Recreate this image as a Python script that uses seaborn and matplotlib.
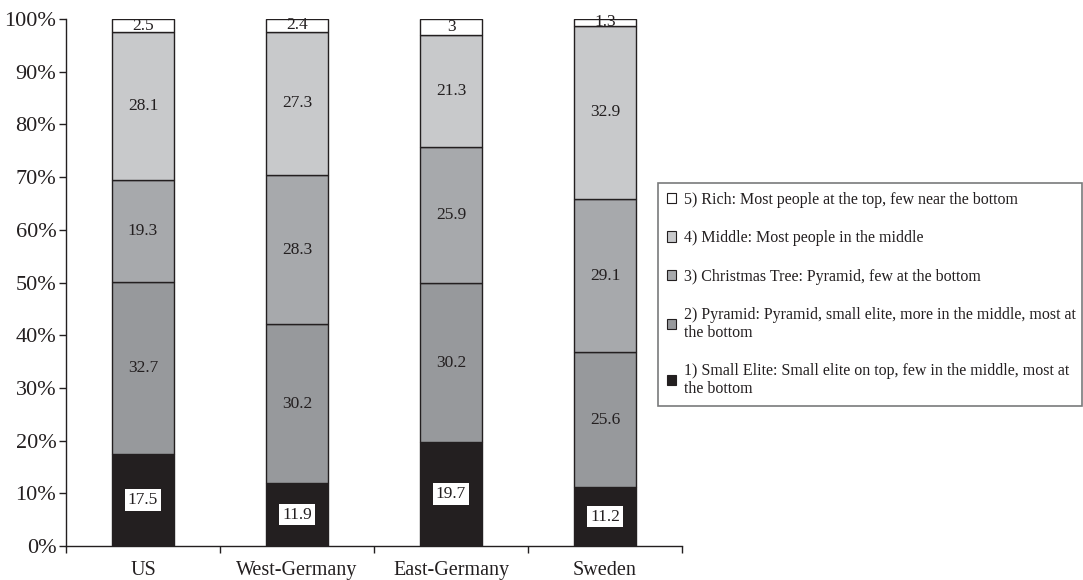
import matplotlib
matplotlib.use("Agg")
import matplotlib.pyplot as plt
from matplotlib.patches import Patch
from matplotlib.ticker import FixedLocator, PercentFormatter
import numpy as np
import pandas as pd
import seaborn as sns

countries = ["US", "West-Germany", "East-Germany", "Sweden"]
small_elite = [17.5, 11.9, 19.7, 11.2]
pyramid = [32.7, 30.2, 30.2, 25.6]
christmas_tree = [19.3, 28.3, 25.9, 29.1]
middle = [28.1, 27.3, 21.3, 32.9]
rich = [2.5, 2.4, 3, 1.3]
value_text = {
    "small_elite": ["17.5", "11.9", "19.7", "11.2"],
    "pyramid": ["32.7", "30.2", "30.2", "25.6"],
    "christmas_tree": ["19.3", "28.3", "25.9", "29.1"],
    "middle": ["28.1", "27.3", "21.3", "32.9"],
    "rich": ["2.5", "2.4", "3", "1.3"],
}
legend_labels = [
    "1) Small Elite: Small elite on top, few in the middle, most at\nthe bottom",
    "2) Pyramid: Pyramid, small elite, more in the middle, most at\nthe bottom",
    "3) Christmas Tree: Pyramid, few at the bottom",
    "4) Middle: Most people in the middle",
    "5) Rich: Most people at the top, few near the bottom",
]

sns.set_theme(style="white")
plt.rcParams["font.family"] = ["Liberation Serif", "DejaVu Serif"]

series = [
    ("small_elite", small_elite, "#231f20"),
    ("pyramid", pyramid, "#97999c"),
    ("christmas_tree", christmas_tree, "#a7a9ac"),
    ("middle", middle, "#c8c9cb"),
    ("rich", rich, "#ffffff"),
]

raw = np.array([s[1] for s in series], dtype=float)
shares = raw / raw.sum(axis=0) * 100.0

fig = plt.figure(figsize=(10.83, 5.80), dpi=100)
ax = fig.add_axes([66 / 1083, 34 / 580, 616 / 1083, 527 / 580])

bottom = np.zeros(len(countries))
for (key, vals, color), share in zip(series, shares):
    df = pd.DataFrame({"country": countries, "share": share})
    sns.barplot(data=df, x="country", y="share", bottom=bottom, color=color,
                width=0.4, edgecolor="#231f20", linewidth=1.0, ax=ax,
                saturation=1, errorbar=None)
    for i, txt in enumerate(value_text[key]):
        yc = bottom[i] + share[i] / 2
        if key == "small_elite":
            ax.text(i, yc, txt, ha="center", va="center", fontsize=12.5,
                    color="#231f20",
                    bbox=dict(facecolor="white", edgecolor="none", pad=2.0))
        else:
            ax.text(i, yc, txt, ha="center", va="center", fontsize=12.5,
                    color="#231f20")
    bottom = bottom + share

ax.set_xlim(-0.5, 3.5)
ax.set_ylim(0, 100)
ax.set_xlabel("")
ax.set_ylabel("")
ax.yaxis.set_major_locator(FixedLocator(np.arange(0, 101, 10)))
ax.yaxis.set_major_formatter(PercentFormatter(100, decimals=0))
ax.set_xticks(range(len(countries)))
ax.set_xticklabels(countries)
ax.set_xticks(np.arange(-0.5, 3.6, 1.0), minor=True)

for side in ["top", "right"]:
    ax.spines[side].set_visible(False)
for side in ["left", "bottom"]:
    ax.spines[side].set_color("#231f20")
    ax.spines[side].set_linewidth(1.0)

ax.tick_params(axis="y", which="major", direction="out", length=5, width=1,
               color="#231f20", labelsize=16, labelcolor="#231f20", pad=2,
               left=True)
ax.tick_params(axis="x", which="major", length=0, labelsize=14.5,
               labelcolor="#231f20", pad=11)
ax.tick_params(axis="x", which="minor", direction="out", length=5, width=1,
               color="#231f20", bottom=True)

handles = [Patch(facecolor=c, edgecolor="#231f20", linewidth=0.8)
           for (_, _, c) in series]
x0, x1 = 658 / 1083, 1082 / 1083
y1 = 1 - 183 / 580
leg = fig.legend(handles[::-1], legend_labels[::-1], loc="upper left",
                 bbox_to_anchor=(x0, y1 - 0.01, x1 - x0, 0.01), mode="expand",
                 frameon=True, fancybox=False, fontsize=11.5,
                 handlelength=0.6, handleheight=0.6, handletextpad=0.45,
                 labelspacing=1.4, borderpad=0.55, borderaxespad=0)
leg.get_frame().set_edgecolor("#58595b")
leg.get_frame().set_linewidth(1.2)
leg.get_frame().set_facecolor("white")
for t in leg.get_texts():
    t.set_color("#231f20")
    t.set_linespacing(1.15)

fig.savefig("out.png", dpi=100, facecolor="white")
